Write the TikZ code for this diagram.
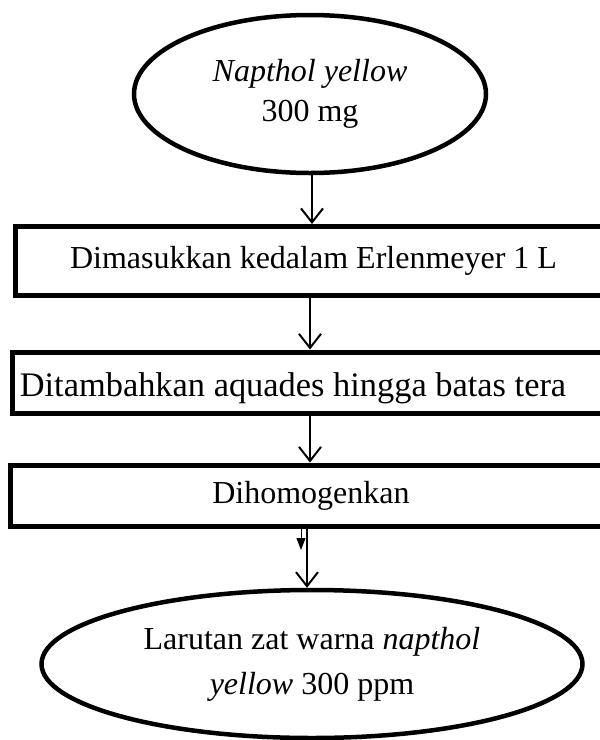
\documentclass[tikz,border=0pt]{standalone}
\usepackage{fontspec}
\setmainfont{Liberation Serif}
\usetikzlibrary{shapes.geometric,arrows.meta}
\begin{document}
\begin{tikzpicture}[x=1pt,y=-1pt,
  every node/.style={font=\fontsize{32}{40}\selectfont, align=center, inner sep=0pt},
  oval/.style={ellipse, draw, line width=4.5pt},
  stepbox/.style={rectangle, draw, line width=5pt},
  flow/.style={line width=2pt, -{Straight Barb[length=14pt,width=22pt,line width=2pt]}},
  stub/.style={line width=1pt, -{Triangle[length=12pt,width=9pt]}}
]
\useasboundingbox (0,0) rectangle (600,740);
\clip (0,0) rectangle (600,740);

% process nodes
\node[oval, minimum width=352pt, minimum height=158pt] (src) at (310,94)
  {\textit{Napthol yellow}\\300 mg};
\node[stepbox, minimum width=597pt, minimum height=69pt] (b1) at (313.5,261)
  {Dimasukkan kedalam Erlenmeyer 1 L};
\node[stepbox, minimum width=600pt, minimum height=61pt] (b2) at (312,382.5) {};
\node[font=\fontsize{34.4}{40}\selectfont] (t2) at (293,388)
  {Ditambahkan aquades hingga batas tera};
\node[stepbox, minimum width=602pt, minimum height=61pt] (b3) at (311,495.5)
  {Dihomogenkan};
\node[oval, minimum width=541pt, minimum height=148pt,
      font=\fontsize{32}{45}\selectfont] (res) at (312,664)
  {Larutan zat warna \textit{napthol}\\\textit{yellow} 300 ppm};

% connector columns
\coordinate (x1) at (312,0);
\coordinate (x2) at (310,0);
\coordinate (x3) at (310,0);
\coordinate (x4) at (307,0);
\coordinate (x5) at (301,0);

% connectors
\draw[flow] (src.south -| x1) -- (b1.north -| x1);
\draw[flow] (b1.south -| x2) -- (b2.north -| x2);
\draw[flow] (b2.south -| x3) -- (b3.north -| x3);
\draw[flow] (b3.south -| x4) -- (res.north -| x4);
\coordinate (s5) at (301,550);
\draw[stub] (b3.south -| x5) -- (s5);
\end{tikzpicture}
\end{document}
